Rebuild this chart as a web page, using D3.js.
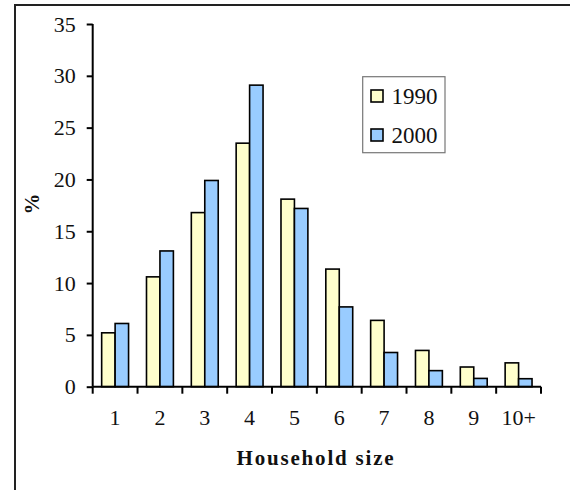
<!DOCTYPE html>
<html><head><meta charset="utf-8">
<script src="https://cdn.jsdelivr.net/npm/d3@7"></script>
<style>body{margin:0;background:#fff}svg{display:block}
svg text{font-family:"Liberation Serif","Times New Roman",serif;}</style>
</head><body><svg id="c" width="570" height="490"></svg>
<script>
const categories = ["1","2","3","4","5","6","7","8","9","10+"];
const series = ["1990","2000"];
const values1990 = [5.2,10.6,16.8,23.5,18.1,11.35,6.4,3.5,1.9,2.3];
const values2000 = [6.1,13.1,19.9,29.1,17.2,7.7,3.3,1.55,0.8,0.77];
const yTicks = [0,5,10,15,20,25,30,35];
const colors = ["#FFFFCC","#99CCFF"];

const svg = d3.select("#c");
const font = "'Liberation Serif', 'Times New Roman', serif";
const X0 = 92.7, X1 = 541, Y0 = 386.7, Y1 = 24;

// outer frame
svg.append("path").attr("d","M15,490V5H570").attr("fill","none").attr("stroke","#222").attr("stroke-width",2);

const x = d3.scaleBand().domain(categories).range([X0,X1]).paddingInner(0.4).paddingOuter(0.2);
const xs = d3.scaleBand().domain(series).range([0,x.bandwidth()]);
const y = d3.scaleLinear().domain([0,35]).range([Y0,Y1]);

const data = categories.map((c,i)=>({c, v:[values1990[i],values2000[i]]}));
const g = svg.append("g");
g.selectAll("g.grp").data(data).join("g").attr("transform",d=>`translate(${x(d.c)},0)`)
 .selectAll("rect").data(d=>d.v.map((v,j)=>({s:series[j],v,j}))).join("rect")
 .attr("x",d=>xs(d.s)).attr("width",xs.bandwidth())
 .attr("y",d=>y(d.v)).attr("height",d=>Y0-y(d.v))
 .attr("fill",d=>colors[d.j]).attr("stroke","#000").attr("stroke-width",1.6);

// y axis
const ya = svg.append("g").attr("transform",`translate(${X0},0)`)
 .call(d3.axisLeft(y).tickValues(yTicks).tickSize(6).tickPadding(11));
ya.select(".domain").attr("stroke","#000").attr("stroke-width",2).attr("d",`M0,${Y1}V${Y0}`);
ya.selectAll(".tick line").attr("stroke","#000").attr("stroke-width",2);
ya.selectAll(".tick text").style("font-family",font).style("font-size","22px").attr("fill","#111");

// x axis
const xa = svg.append("g").attr("transform",`translate(0,${Y0})`)
 .call(d3.axisBottom(x).tickSize(0).tickPadding(23));
xa.select(".domain").attr("stroke","#000").attr("stroke-width",2).attr("d",`M${X0},0H${X1}`);
xa.selectAll(".tick text").style("font-family",font).style("font-size","22px").attr("fill","#111");
// boundary ticks between categories
const bounds = categories.map(c=>x(c)-x.step()*x.paddingInner()/2).concat([X1]);
bounds[0] = X0;
xa.selectAll("line.b").data(bounds).join("line").attr("class","b")
 .attr("x1",d=>d).attr("x2",d=>d).attr("y1",0).attr("y2",7).attr("stroke","#000").attr("stroke-width",2);

// axis titles
svg.append("text").attr("x",316).attr("y",465).attr("text-anchor","middle")
 .style("font-family",font).style("font-weight","bold").style("font-size","21px").style("letter-spacing","1.8px")
 .attr("fill","#111").text("Household size");
svg.append("text").attr("transform","translate(39,204) rotate(-90)").attr("text-anchor","middle")
 .style("font-family",font).style("font-weight","bold").style("font-size","21px").attr("fill","#111").text("%");

// legend
const lg = svg.append("g");
lg.append("rect").attr("x",362.7).attr("y",76.7).attr("width",82.3).attr("height",76)
 .attr("fill","#fff").attr("stroke","#777").attr("stroke-width",1.2);
const ly = [96, 135];
series.forEach((s,i)=>{
  lg.append("rect").attr("x",371).attr("y",ly[i]-6).attr("width",12).attr("height",12)
    .attr("fill",colors[i]).attr("stroke","#000").attr("stroke-width",1.6);
  lg.append("text").attr("x",391.5).attr("y",ly[i]+8).style("font-family",font).style("font-size","23px")
    .attr("fill","#111").text(s);
});
</script></body></html>
